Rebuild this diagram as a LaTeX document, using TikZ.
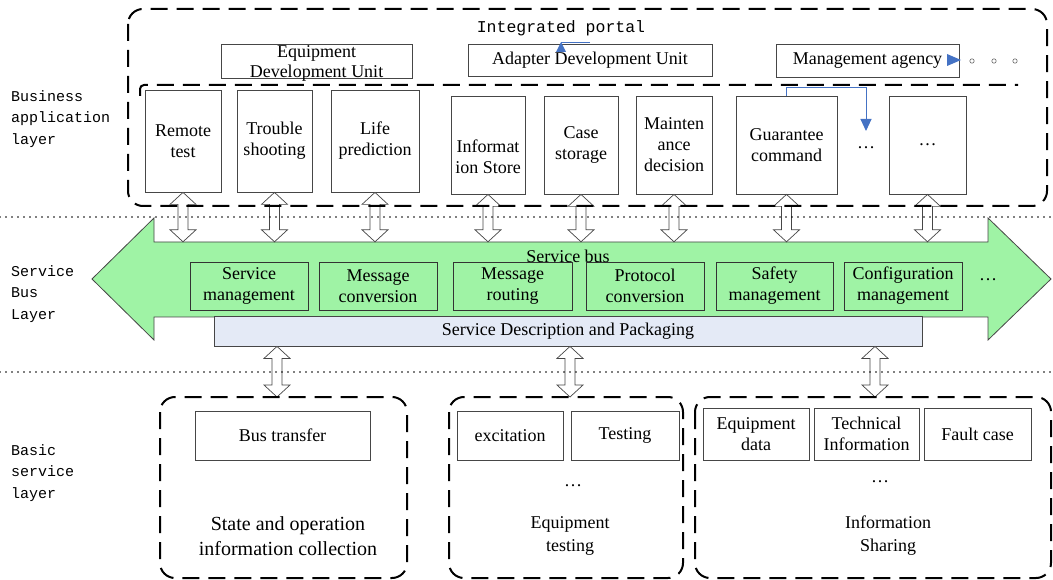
\documentclass[tikz,border=0pt]{standalone}
\usepackage{fontspec}
\setmainfont{Liberation Serif}
\newfontfamily\monof{Liberation Mono}
\usetikzlibrary{calc,arrows.meta}
\definecolor{busgreen}{RGB}{159,243,165}
\definecolor{boxline}{RGB}{70,70,70}
\definecolor{descfill}{RGB}{228,234,246}
\definecolor{arrblue}{RGB}{68,114,196}
\tikzset{
  txt/.style={font=\fontsize{18}{21}\selectfont, align=center},
  box/.style={draw=boxline, line width=0.8pt, fill=white, inner sep=1pt, txt},
  gbox/.style={box, fill=busgreen, draw=black!80},
  grp/.style={draw=black, line width=2pt, dash pattern=on 17pt off 9pt, rounded corners=15pt},
  dotline/.style={line width=1.7pt, dash pattern=on 0pt off 6pt, line cap=round},
  layer/.style={font=\monof\fontsize{15}{21.5}\selectfont, align=left, anchor=west, inner sep=0pt},
  harrow/.style={draw=boxline, fill=white, line width=0.7pt,
    to path={let \p1=(\tikztostart), \p2=(\tikztotarget) in
      -- (\x1+13pt,\y1-12pt) -- (\x1+5pt,\y1-12pt) -- (\x1+5pt,\y2+12pt)
      -- (\x1+13pt,\y2+12pt) -- (\x1,\y2) -- (\x1-13pt,\y2+12pt)
      -- (\x1-5pt,\y2+12pt) -- (\x1-5pt,\y1-12pt) -- (\x1-13pt,\y1-12pt) -- cycle}},
  bluearr/.style={draw=arrblue, line width=1pt}
}
\begin{document}
\begin{tikzpicture}[x=1pt,y=-1pt]
\useasboundingbox (0,0) rectangle (1053,580);

% ---- service bus arrow ----
\draw[fill=busgreen, draw=boxline, line width=0.8pt]
  (92,279) -- (154,218) -- (154,242) -- (988,242) -- (988,218) -- (1051,279)
  -- (988,340) -- (988,317) -- (154,317) -- (154,340) -- cycle;
\node[minimum width=834pt, minimum height=75pt, inner sep=0pt] (shaft) at (571,279.5) {};

\node[box, fill=descfill, draw=boxline, minimum width=708pt, minimum height=30pt] (sdp) at (568,331) {Service Description and Packaging};

\node[gbox, minimum width=118pt, minimum height=48pt] (sm) at (249,286) {Service\\management};
\node[gbox, minimum width=118pt, minimum height=48pt] (mc) at (378,286) {Message\\conversion};
\node[gbox, minimum width=119pt, minimum height=48pt] (mr) at (512.5,286) {Message\\routing};
\node[gbox, minimum width=118pt, minimum height=48pt] (pc) at (645,286) {Protocol\\conversion};
\node[gbox, minimum width=117pt, minimum height=48pt] (sf) at (774.5,286) {Safety\\management};
\node[gbox, minimum width=118pt, minimum height=48pt] (cm) at (903,286) {Configuration\\management};
\node[txt] (bdots) at (988,280) {…};
\node[txt, inner sep=0pt] (sbus) at (568,256) {Service bus};

% ---- business application layer ----
\node[box, minimum width=76pt, minimum height=102pt] (rt) at (183,141) {Remote\\test};
\node[box, minimum width=75pt, minimum height=102pt] (ts) at (274.5,141) {Trouble\\shooting};
\node[box, minimum width=88pt, minimum height=102pt] (lp) at (375,141) {Life\\prediction};
\node[box, minimum width=74pt, minimum height=98pt] (is) at (488,145) {};
\node[txt, inner sep=0pt] (ist) at (488,157) {Informat\\ion Store};
\node[box, minimum width=74pt, minimum height=98pt] (cs) at (581,145) {Case\\storage};
\node[box, minimum width=76pt, minimum height=98pt] (md) at (674,145) {Mainten\\ance\\decision};
\node[box, minimum width=101pt, minimum height=98pt] (gc) at (786.5,145) {Guarantee\\command};
\node[txt] (adots) at (866,148) {…};
\node[box, minimum width=77pt, minimum height=98pt] (ld) at (927.5,145) {…};

% ---- top portal boxes ----
\node[box, minimum width=191pt, minimum height=34pt] (edu) at (316.5,61) {};
\node[txt, font=\fontsize{18}{20}\selectfont, inner sep=0pt] (edut) at (316.5,63) {Equipment\\Development Unit};
\node[box, minimum width=244pt, minimum height=32pt] (adu) at (590,60) {Adapter Development Unit};
\node[box, minimum width=183pt, minimum height=33pt] (ma) at (867.5,60.5) {Management agency};
\node[font=\monof\fontsize{16.5}{20}\selectfont] (ip) at (561,28) {Integrated portal};

% ---- basic service layer ----
\node[box, minimum width=175pt, minimum height=49pt] (bt) at (282.5,435.5) {Bus transfer};
\node[box, minimum width=106pt, minimum height=49pt] (ex) at (510,435.5) {excitation};
\node[box, minimum width=108pt, minimum height=49pt] (te) at (625,435.5) {Testing};
\node[box, minimum width=106pt, minimum height=52pt] (ed) at (756,434) {Equipment\\data};
\node[box, minimum width=105pt, minimum height=52pt] (ti) at (866.5,434) {Technical\\Information};
\node[box, minimum width=107pt, minimum height=52pt] (fc) at (977.5,434) {Fault case};
\node[txt, font=\fontsize{20}{25}\selectfont] (soc) at (288,536) {State and operation\\information collection};
\node[txt] (etdots) at (573,486) {…};
\node[txt, font=\fontsize{18}{23}\selectfont] (et) at (570,536) {Equipment\\testing};
\node[txt] (isdots) at (880,482) {…};
\node[txt, font=\fontsize{18}{23}\selectfont] (ish) at (888,536) {Information\\Sharing};

% ---- hollow double arrows ----
\foreach \bn in {rt,ts,lp,is,cs,md,gc,ld}
  \draw[harrow] (\bn.south) to (\bn.south |- shaft.north);
\coordinate (bx1) at (277,397);
\coordinate (bx2) at (570,397);
\coordinate (bx3) at (875,397);
\foreach \bc in {bx1,bx2,bx3}
  \draw[harrow] (\bc |- sdp.south) to (\bc);

% ---- dashed groups ----
\draw[grp] (128,9) rectangle (1047,206);
\draw[grp, rounded corners=4pt] (140,96) -- (140,85) -- (1018,85);
\draw[grp] (160,397) rectangle (407,578);
\draw[grp] (449,397) rectangle (683,578);
\draw[grp] (695,397) rectangle (1051,578);

% ---- dotted layer separators ----
\draw[dotline] (0,217) -- (1053,217);
\draw[dotline] (0,372) -- (1053,372);

% ---- blue arrows ----
\draw[bluearr] (590,43) -- (561,43);
\fill[arrblue] (556,52) -- (566,52) -- (561,42) -- cycle;
\fill[arrblue] (947,54) -- (947,66) -- (961,60) -- cycle;
\draw[bluearr, -{Triangle[width=11pt,length=12pt]}] (gc.north) |- (866,88) -- (866,131);
\foreach \xx in {972,994,1015}
  \draw[black!60, line width=0.6pt] (\xx,61) circle[radius=2.2pt];

% ---- layer labels ----
\node[layer] (l1) at (11,119) {Business\\application\\layer};
\node[layer] (l2) at (11,294) {Service\\Bus\\Layer};
\node[layer] (l3) at (11,473) {Basic\\service\\layer};
\end{tikzpicture}
\end{document}
